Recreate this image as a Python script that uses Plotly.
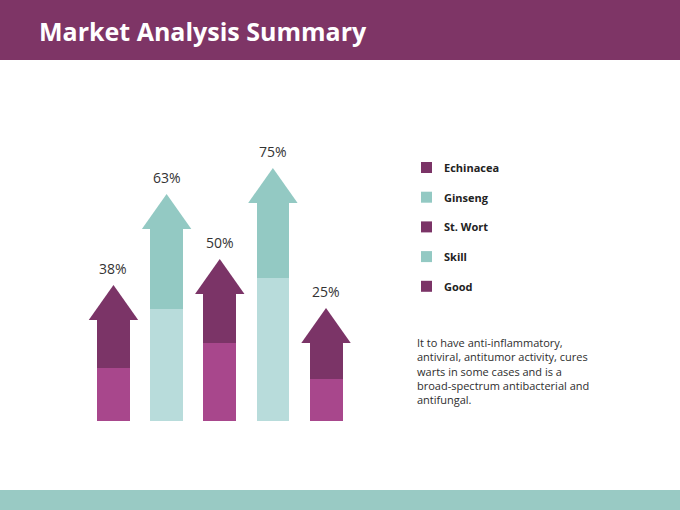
import plotly.graph_objects as go

# arrow chart data (heights, in chart units 0-100)
categories = ["A", "B", "C", "D", "E"]
labels = ["38%", "63%", "50%", "75%", "25%"]
lower = [18.9, 40.0, 27.9, 51.1, 15.0]
upper = [17.2, 28.6, 17.5, 26.8, 12.9]
head = 12.5

legend_names = ["Echinacea", "Ginseng", "St. Wort", "Skill", "Good"]
note = ("It to have anti-inflammatory,<br>antiviral, antitumor activity, cures<br>"
        "warts in some cases and is a<br>broad-spectrum antibacterial and<br>antifungal.")

PURPLE = "#7b3467"
PINK = "#a8478c"
TEAL = "#93c9c3"
LTEAL = "#b8dcdb"

dark = [PURPLE, TEAL, PURPLE, TEAL, PURPLE]
light = [PINK, LTEAL, PINK, LTEAL, PINK]

x = list(range(len(categories)))
bw = 0.62
hw = 0.465

fig = go.Figure()
fig.add_trace(go.Bar(x=x, y=lower, width=bw, marker=dict(color=light, line_width=0),
                     hoverinfo="skip", showlegend=False))
fig.add_trace(go.Bar(x=x, y=upper, width=bw, marker=dict(color=dark, line_width=0),
                     hoverinfo="skip", showlegend=False))

# arrow heads
for i in x:
    base = lower[i] + upper[i]
    fig.add_trace(go.Scatter(
        x=[i - hw, i + hw, i, i - hw],
        y=[base, base, base + head, base],
        mode="lines", fill="toself", fillcolor=dark[i],
        line=dict(width=0, color=dark[i]), hoverinfo="skip", showlegend=False))
    fig.add_annotation(x=i, y=base + head, text=labels[i], showarrow=False,
                       yanchor="bottom", yshift=5,
                       font=dict(family="Open Sans", size=14, color="#333333"))

fig.update_layout(
    width=680, height=510,
    margin=dict(l=0, r=0, t=0, b=0),
    paper_bgcolor="white", plot_bgcolor="white",
    barmode="stack", bargap=0,
    xaxis=dict(range=[-0.5, 4.5], domain=[86.9 / 680, 352.6 / 680], visible=False, fixedrange=True),
    yaxis=dict(range=[0, 100], domain=[1 - 421 / 510, 1 - 141 / 510], visible=False, fixedrange=True),
    font=dict(family="Open Sans"),
)

# header and footer bands
fig.add_shape(type="rect", xref="paper", yref="paper", x0=0, x1=1, y0=1 - 60 / 510, y1=1,
              fillcolor="#7e3566", line_width=0, layer="below")
fig.add_shape(type="rect", xref="paper", yref="paper", x0=0, x1=1, y0=0, y1=20 / 510,
              fillcolor="#99cac4", line_width=0, layer="below")
fig.add_annotation(xref="paper", yref="paper", x=37 / 680, y=1 - 31 / 510,
                   xanchor="left", yanchor="middle", showarrow=False,
                   text="<b>Market Analysis Summary</b>",
                   font=dict(family="Open Sans", size=25, color="white"))

# legend
for k, name in enumerate(legend_names):
    yc = 167.5 + k * 29.7
    col = dark[k]
    fig.add_shape(type="rect", xref="paper", yref="paper",
                  x0=421 / 680, x1=432 / 680,
                  y0=1 - (yc + 5.5) / 510, y1=1 - (yc - 5.5) / 510,
                  fillcolor=col, line_width=0)
    fig.add_annotation(xref="paper", yref="paper", x=442 / 680, y=1 - yc / 510,
                       xanchor="left", yanchor="middle", showarrow=False,
                       text="<b>" + name + "</b>",
                       font=dict(family="Open Sans", size=11, color="#222222"))

fig.add_annotation(xref="paper", yref="paper", x=415 / 680, y=1 - 333 / 510,
                   xanchor="left", yanchor="top", align="left", showarrow=False,
                   text=note, font=dict(family="Open Sans", size=11, color="#2e2e2e"))

fig.write_html("out.html", config={"displayModeBar": False},
               post_script="document.body.style.margin='0';")
